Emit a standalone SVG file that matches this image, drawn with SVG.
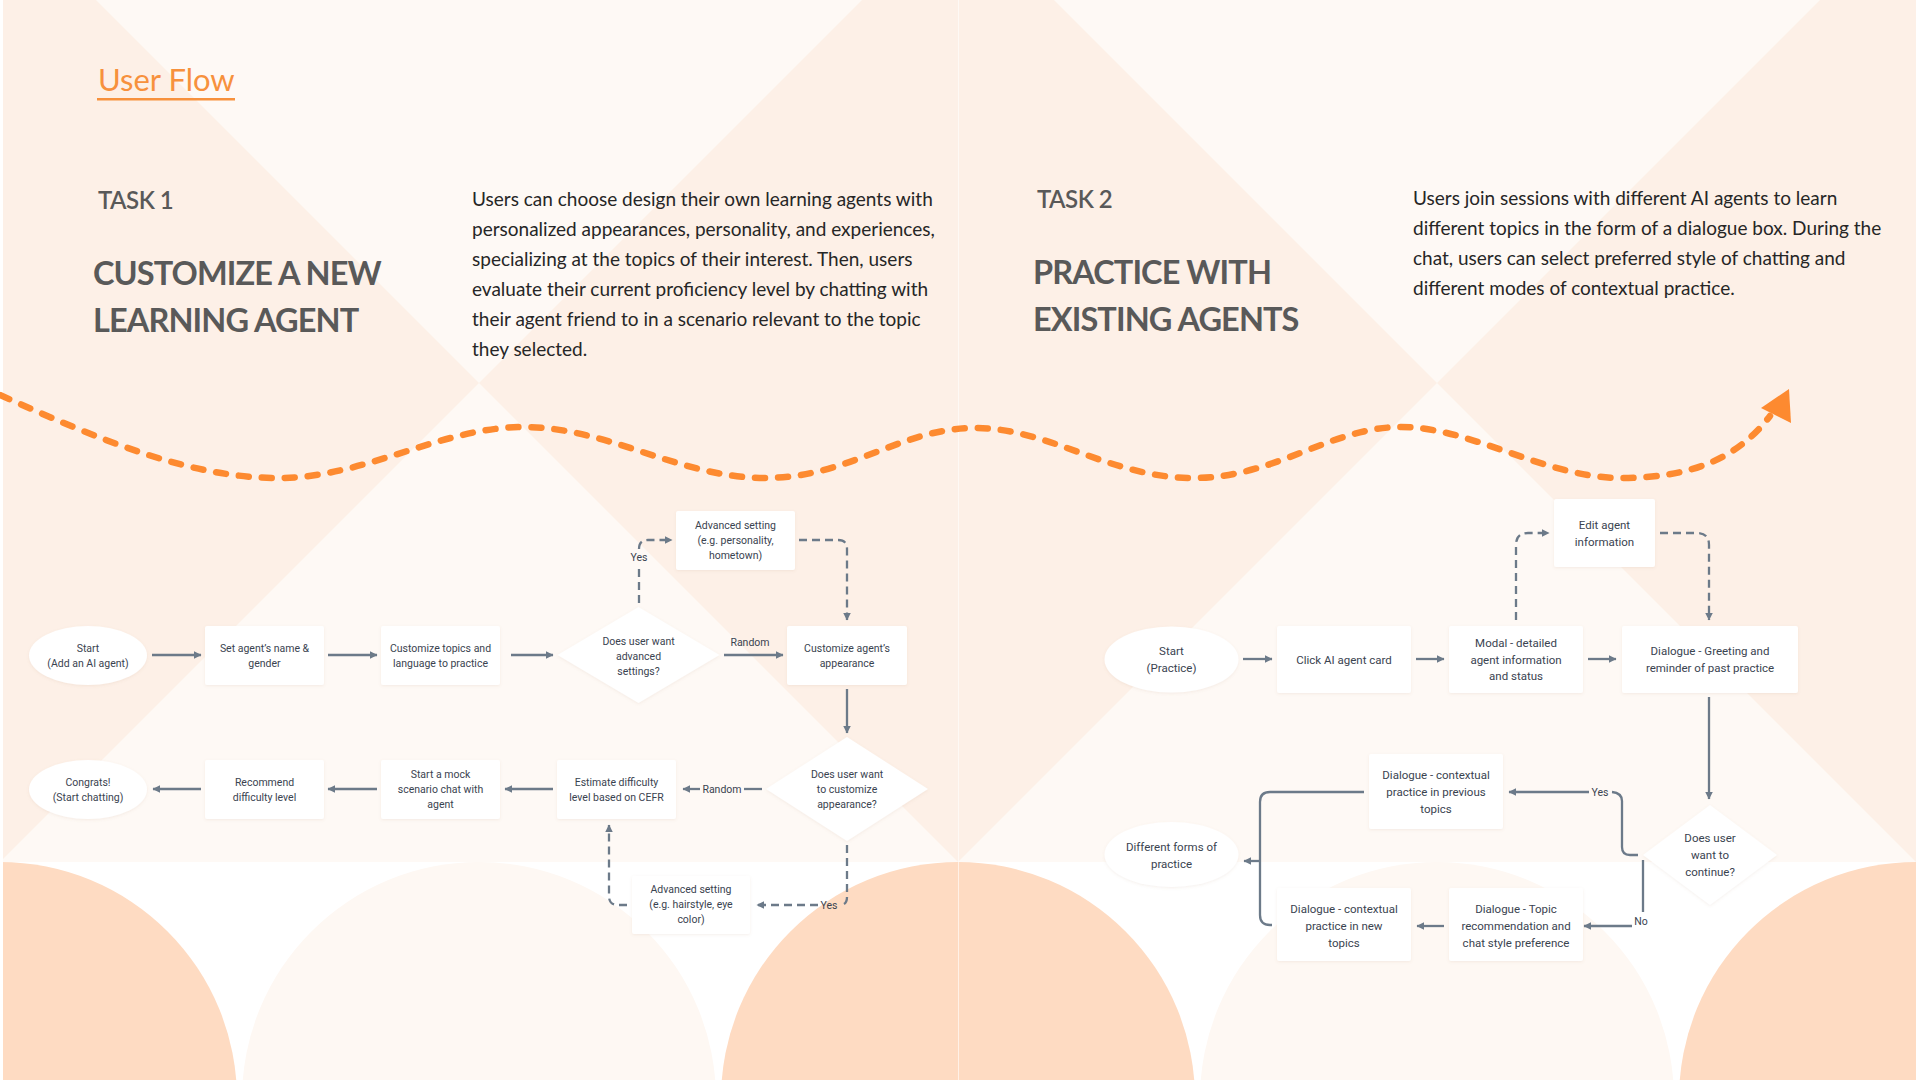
<svg xmlns="http://www.w3.org/2000/svg" width="1920" height="1080" viewBox="0 0 1920 1080">
<defs>
<style>
.h{font-family:Lato,"Open Sans",sans-serif;fill:#595959}
.p{font-family:Lato,"Open Sans",sans-serif;font-size:19px;fill:#262626}
.n{font-family:Roboto,"Liberation Sans",sans-serif;font-size:10.5px;fill:#3a4350;text-anchor:middle;dominant-baseline:central}
.n2{font-family:Roboto,"Liberation Sans",sans-serif;font-size:11.5px;fill:#3a4350;text-anchor:middle;dominant-baseline:central}
.lb{font-family:Roboto,"Liberation Sans",sans-serif;font-size:10.5px;fill:#3a4350;text-anchor:middle;dominant-baseline:central}
.box{fill:#ffffff;filter:url(#sh)}
.c{fill:none;stroke:#6c7a89;stroke-width:2.3}
.d{fill:none;stroke:#6c7a89;stroke-width:2.3;stroke-dasharray:8 5}
</style>
<filter id="sh" x="-10%" y="-15%" width="120%" height="135%">
<feDropShadow dx="0" dy="1" stdDeviation="1.5" flood-color="#b08060" flood-opacity="0.12"/>
</filter>
<marker id="ar" viewBox="0 0 8 8" refX="6.5" refY="4" markerWidth="9" markerHeight="9" markerUnits="userSpaceOnUse" orient="auto">
<path d="M0,0.5 L7,4 L0,7.5 Z" fill="#6c7a89"/>
</marker>
</defs>

<!-- background -->
<g id="background">
<rect x="0" y="0" width="1920" height="1080" fill="#ffffff"/>
<rect x="0" y="0" width="1920" height="862" fill="#fdf0e7"/>
<polygon points="96,0 862,0 479,383" fill="#fef9f5"/>
<polygon points="1054,0 1820,0 1437,383" fill="#fef9f5"/>
<polygon points="479,383 0,862 958,862" fill="#fef9f5"/>
<polygon points="1437,383 958,862 1916,862" fill="#fef9f5"/>
<circle cx="0" cy="1099" r="237" fill="#fedbc2"/>
<circle cx="479" cy="1099" r="237" fill="#fef8f3"/>
<circle cx="958" cy="1099" r="237" fill="#fedbc2"/>
<circle cx="1437" cy="1099" r="237" fill="#fef8f3"/>
<circle cx="1916" cy="1099" r="237" fill="#fedbc2"/>
<rect x="0" y="0" width="3" height="1080" fill="#ffffff"/>
<rect x="1916" y="0" width="4" height="1080" fill="#ffffff"/>
<line x1="958.5" y1="0" x2="958.5" y2="1080" stroke="#ffffff" stroke-opacity="0.6" stroke-width="1"/>
</g>

<!-- headings -->
<g id="header">
<text x="98" y="91" font-family="Lato, 'Open Sans', sans-serif" font-size="31" fill="#f7913d">User Flow</text>
<rect x="97" y="98" width="138" height="2.5" fill="#f7913d"/>
<text class="h" x="98" y="209" font-size="24" font-weight="600" letter-spacing="-0.5">TASK 1</text>
<text class="h" x="93" y="285" font-size="32.5" font-weight="700" letter-spacing="-0.9">CUSTOMIZE A NEW</text>
<text class="h" x="93" y="332" font-size="32.5" font-weight="700" letter-spacing="-0.9">LEARNING AGENT</text>
<text class="p" x="472" y="206">Users can choose design their own learning agents with</text>
<text class="p" x="472" y="236">personalized appearances, personality, and experiences,</text>
<text class="p" x="472" y="266">specializing at the topics of their interest. Then, users</text>
<text class="p" x="472" y="296">evaluate their current proficiency level by chatting with</text>
<text class="p" x="472" y="326">their agent friend to in a scenario relevant to the topic</text>
<text class="p" x="472" y="356">they selected.</text>
<text class="h" x="1037" y="208" font-size="24" font-weight="600" letter-spacing="-0.5">TASK 2</text>
<text class="h" x="1033" y="284" font-size="32.5" font-weight="700" letter-spacing="-0.9">PRACTICE WITH</text>
<text class="h" x="1033" y="331" font-size="32.5" font-weight="700" letter-spacing="-0.9">EXISTING AGENTS</text>
<text class="p" x="1413" y="205">Users join sessions with different AI agents to learn</text>
<text class="p" x="1413" y="235">different topics in the form of a dialogue box. During the</text>
<text class="p" x="1413" y="265">chat, users can select preferred style of chatting and</text>
<text class="p" x="1413" y="295">different modes of contextual practice.</text>
</g>

<!-- orange journey curve -->
<g id="journey">
<path d="M0,395 C100,440 190,478 278,478 S440,427 524,427 S680,478 765,478 S900,428 975,428 S1110,478 1193,478 S1330,427 1401,427 S1545,478 1621,478 S1740,455 1770,416" fill="none" stroke="#fd8a30" stroke-width="6.5" stroke-linecap="round" stroke-dasharray="10 13"/>
<polygon points="1761,408 1789,389 1791,423" fill="#fd8a30"/>
</g>

<!-- connectors -->
<g id="connectors">
<line class="c" x1="152" y1="655" x2="201" y2="655" marker-end="url(#ar)"/>
<line class="c" x1="328" y1="655" x2="377" y2="655" marker-end="url(#ar)"/>
<line class="c" x1="511" y1="655" x2="553" y2="655" marker-end="url(#ar)"/>
<line class="c" x1="724" y1="655" x2="783" y2="655" marker-end="url(#ar)"/>
<text class="lb" x="750" y="642">Random</text>
<path class="d" d="M639,603 V566"/>
<text class="lb" x="639" y="557">Yes</text>
<path class="d" d="M639,549 Q639,540 648,540 H672" marker-end="url(#ar)"/>
<path class="d" d="M799,540 H838 Q847,540 847,549 V620" marker-end="url(#ar)"/>
<line class="c" x1="847" y1="689" x2="847" y2="733" marker-end="url(#ar)"/>
<path class="c" d="M762,789 H744"/>
<text class="lb" x="722" y="789">Random</text>
<path class="c" d="M700,789 H683" marker-end="url(#ar)"/>
<line class="c" x1="553" y1="789" x2="505" y2="789" marker-end="url(#ar)"/>
<line class="c" x1="377" y1="789" x2="328" y2="789" marker-end="url(#ar)"/>
<line class="c" x1="201" y1="789" x2="153" y2="789" marker-end="url(#ar)"/>
<path class="d" d="M847,845 V897 Q847,905 840,905"/>
<text class="lb" x="829" y="905">Yes</text>
<path class="d" d="M818,905 H757" marker-end="url(#ar)"/>
<path class="d" d="M627,905 H618 Q609,905 609,896 V825" marker-end="url(#ar)"/>

<line class="c" x1="1243" y1="659" x2="1272" y2="659" marker-end="url(#ar)"/>
<line class="c" x1="1416" y1="659" x2="1444" y2="659" marker-end="url(#ar)"/>
<line class="c" x1="1588" y1="659" x2="1616" y2="659" marker-end="url(#ar)"/>
<path class="d" d="M1516,620 V545 Q1516,533 1528,533 H1549" marker-end="url(#ar)"/>
<path class="d" d="M1660,533 H1697 Q1709,533 1709,545 V620" marker-end="url(#ar)"/>
<line class="c" x1="1709" y1="697" x2="1709" y2="799" marker-end="url(#ar)"/>
<path class="c" d="M1638,855 H1630 Q1622,855 1622,847 V801 Q1622,793 1612,792"/>
<text class="lb" x="1600" y="792">Yes</text>
<path class="c" d="M1589,792 H1509" marker-end="url(#ar)"/>
<path class="c" d="M1643,860 V912"/>
<text class="lb" x="1641" y="921">No</text>
<path class="c" d="M1632,926 H1584" marker-end="url(#ar)"/>
<line class="c" x1="1444" y1="926" x2="1417" y2="926" marker-end="url(#ar)"/>
<path class="c" d="M1364,792 H1270 Q1260,792 1260,802 V915 Q1260,925 1270,925 H1272"/>
<line class="c" x1="1260" y1="861" x2="1244" y2="861" marker-end="url(#ar)"/>
</g>

<!-- task 1 nodes -->
<g id="t1-start"><ellipse class="box" cx="88" cy="655.5" rx="59" ry="29.5"/><text class="n" x="88" y="648">Start</text><text class="n" x="88" y="663">(Add an AI agent)</text></g>
<g id="t1-name"><rect class="box" x="205" y="626" width="119" height="59" rx="2"/><text class="n" x="264.5" y="648">Set agent’s name &amp;</text><text class="n" x="264.5" y="663">gender</text></g>
<g id="t1-topics"><rect class="box" x="381" y="626" width="119" height="59" rx="2"/><text class="n" x="440.5" y="648">Customize topics and</text><text class="n" x="440.5" y="663">language to practice</text></g>
<g id="t1-advq"><polygon class="box" points="638.5,607 719.5,655 638.5,703 557.5,655"/><text class="n" x="638.5" y="641">Does user want</text><text class="n" x="638.5" y="656">advanced</text><text class="n" x="638.5" y="671">settings?</text></g>
<g id="t1-adv1"><rect class="box" x="676" y="511" width="119" height="59" rx="2"/><text class="n" x="735.5" y="525">Advanced setting</text><text class="n" x="735.5" y="540">(e.g. personality,</text><text class="n" x="735.5" y="555">hometown)</text></g>
<g id="t1-appearance"><rect class="box" x="787" y="626" width="120" height="59" rx="2"/><text class="n" x="847" y="648">Customize agent’s</text><text class="n" x="847" y="663">appearance</text></g>
<g id="t1-appq"><polygon class="box" points="847,737 928,789 847,841 766,789"/><text class="n" x="847" y="774">Does user want</text><text class="n" x="847" y="789">to customize</text><text class="n" x="847" y="804">appearance?</text></g>
<g id="t1-estimate"><rect class="box" x="557" y="760" width="119" height="59" rx="2"/><text class="n" x="616.5" y="782">Estimate difficulty</text><text class="n" x="616.5" y="797">level based on CEFR</text></g>
<g id="t1-adv2"><rect class="box" x="632" y="876" width="118" height="58" rx="2"/><text class="n" x="691" y="889">Advanced setting</text><text class="n" x="691" y="904">(e.g. hairstyle, eye</text><text class="n" x="691" y="919">color)</text></g>
<g id="t1-mock"><rect class="box" x="381" y="760" width="119" height="59" rx="2"/><text class="n" x="440.5" y="774">Start a mock</text><text class="n" x="440.5" y="789">scenario chat with</text><text class="n" x="440.5" y="804">agent</text></g>
<g id="t1-recommend"><rect class="box" x="205" y="760" width="119" height="59" rx="2"/><text class="n" x="264.5" y="782">Recommend</text><text class="n" x="264.5" y="797">difficulty level</text></g>
<g id="t1-congrats"><ellipse class="box" cx="88" cy="789.5" rx="59" ry="29.5"/><text class="n" x="88" y="782">Congrats!</text><text class="n" x="88" y="797">(Start chatting)</text></g>

<!-- task 2 nodes -->
<g id="t2-start"><ellipse class="box" cx="1171.5" cy="659.5" rx="67" ry="33"/><text class="n2" x="1171.5" y="651">Start</text><text class="n2" x="1171.5" y="668">(Practice)</text></g>
<g id="t2-click"><rect class="box" x="1277" y="626" width="134" height="67" rx="2"/><text class="n2" x="1344" y="659.5">Click AI agent card</text></g>
<g id="t2-modal"><rect class="box" x="1449" y="626" width="134" height="67" rx="2"/><text class="n2" x="1516" y="643">Modal - detailed</text><text class="n2" x="1516" y="659.5">agent information</text><text class="n2" x="1516" y="676">and status</text></g>
<g id="t2-edit"><rect class="box" x="1554" y="499" width="101" height="68" rx="2"/><text class="n2" x="1604.5" y="524.5">Edit agent</text><text class="n2" x="1604.5" y="541.5">information</text></g>
<g id="t2-greet"><rect class="box" x="1622" y="626" width="176" height="67" rx="2"/><text class="n2" x="1710" y="651">Dialogue - Greeting and</text><text class="n2" x="1710" y="668">reminder of past practice</text></g>
<g id="t2-continue"><polygon class="box" points="1710,805 1777,855 1710,905 1643,855"/><text class="n2" x="1710" y="838">Does user</text><text class="n2" x="1710" y="855">want to</text><text class="n2" x="1710" y="872">continue?</text></g>
<g id="t2-prev"><rect class="box" x="1369" y="754" width="134" height="75" rx="2"/><text class="n2" x="1436" y="775">Dialogue - contextual</text><text class="n2" x="1436" y="792">practice in previous</text><text class="n2" x="1436" y="808.5">topics</text></g>
<g id="t2-forms"><ellipse class="box" cx="1171.5" cy="854.5" rx="67" ry="32.5"/><text class="n2" x="1171.5" y="847">Different forms of</text><text class="n2" x="1171.5" y="863.5">practice</text></g>
<g id="t2-new"><rect class="box" x="1277" y="888" width="134" height="73" rx="2"/><text class="n2" x="1344" y="909">Dialogue - contextual</text><text class="n2" x="1344" y="926">practice in new</text><text class="n2" x="1344" y="943">topics</text></g>
<g id="t2-topicrec"><rect class="box" x="1449" y="888" width="134" height="73" rx="2"/><text class="n2" x="1516" y="909">Dialogue - Topic</text><text class="n2" x="1516" y="926">recommendation and</text><text class="n2" x="1516" y="943">chat style preference</text></g>
</svg>
